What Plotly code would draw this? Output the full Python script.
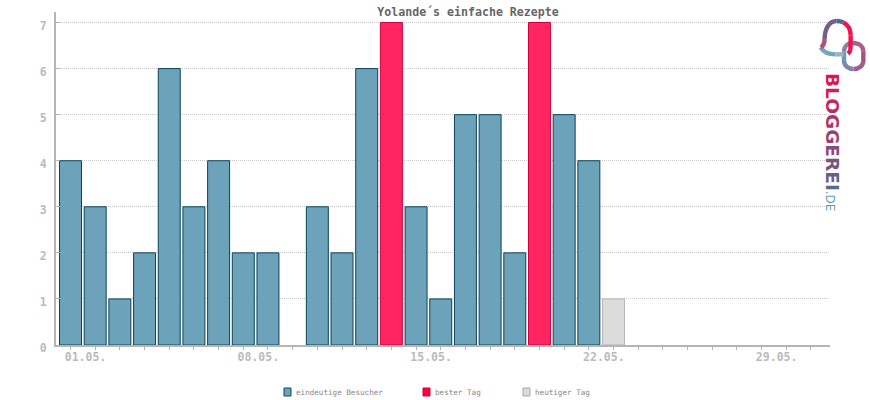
import plotly.graph_objects as go

title = "Yolande´s einfache Rezepte"
days = list(range(1, 32))
tick_labels = {1: "01.05.", 8: "08.05.", 15: "15.05.", 22: "22.05.", 29: "29.05."}
visitor_days = [1, 2, 3, 4, 5, 6, 7, 8, 9, 11, 12, 13, 15, 16, 17, 18, 19, 21, 22]
visitor_vals = [4, 3, 1, 2, 6, 3, 4, 2, 2, 3, 2, 6, 3, 1, 5, 5, 2, 5, 4]
best_days = [14, 20]
best_vals = [7, 7]
today_days = [23]
today_vals = [1]
legend_names = ["eindeutige Besucher", "bester Tag", "heutiger Tag"]

MONO = "DejaVu Sans Mono"
L, R, T, B = 56, 830, 12, 345


def px(x):
    return (x - L) / (R - L)


def py(y):
    return (B - y) / (B - T)


fig = go.Figure()
for name, xs, ys, fill, edge in [
    (legend_names[0], visitor_days, visitor_vals, "#6ca3bb", "#0b4358"),
    (legend_names[1], best_days, best_vals, "#ff2560", "#d0003f"),
    (legend_names[2], today_days, today_vals, "#dcdcdc", "#b5b5b5"),
]:
    fig.add_trace(go.Bar(x=xs, y=ys, name=name, width=0.89,
                         marker=dict(color=fill, line=dict(color=edge, width=1))))

shapes = []
annotations = []

# legend
for sx, tx, name, fill, edge in [
    (284, 296, legend_names[0], "#6ca3bb", "#0f4a5f"),
    (423, 435, legend_names[1], "#ff003f", "#d0003f"),
    (523, 535, legend_names[2], "#dcdcdc", "#a8a8a8"),
]:
    shapes.append(dict(type="rect", xref="paper", yref="paper",
                       x0=px(sx), x1=px(sx + 7), y0=py(388), y1=py(396),
                       fillcolor=fill, line=dict(color=edge, width=1)))
    annotations.append(dict(text=name, xref="paper", yref="paper", x=px(tx - 2), y=py(392),
                            xanchor="left", yanchor="middle", showarrow=False,
                            font=dict(family=MONO, size=7.6, color="#888888")))


# logo: curves given in 3x crop coordinates of the emblem area
def seg(start, curves, color, width=4.4):
    def p(a, b):
        return f"{px(815 + a / 3):.5f},{py(15 + b / 3):.5f}"
    d = "M" + p(*start)
    for c in curves:
        d += " C" + " ".join(p(*q) for q in c)
    shapes.append(dict(type="path", path=d, xref="paper", yref="paper",
                       line=dict(color=color, width=width)))


# link
seg((87, 110), [[(87, 94), (98, 84), (113, 84)]], "#8f7fa0")
seg((113, 84), [[(132, 84), (145, 94), (145, 110)]], "#a8608a")
seg((145, 110), [[(145, 118), (145, 130), (145, 138)]], "#a8507f")
seg((145, 138), [[(145, 152), (132, 162), (116, 162)]], "#a0608a")
seg((116, 162), [[(100, 162), (87, 152), (87, 138)]], "#7f86a6")
seg((87, 138), [[(87, 130), (87, 120), (87, 110)]], "#6b9cb6")
# bubble
seg((17, 97), [[(28, 116), (45, 118), (62, 118)]], "#6fa8c0")
seg((62, 118), [[(70, 118), (76, 118), (86, 118)]], "#9ab3c6")
seg((17, 97), [[(24, 94), (28, 88), (29, 72)]], "#b0507c")
seg((29, 72), [[(29, 42), (42, 18), (65, 18)]], "#71608c")
seg((65, 18), [[(72, 18), (78, 19), (85, 22)]], "#4d6a8f")
seg((85, 22), [[(100, 30), (107, 42), (107, 62)]], "#f0144e")
seg((107, 62), [[(107, 80), (107, 95), (106, 105)]], "#f0144e")
seg((106, 105), [[(105, 110), (103, 113), (99, 116)]], "#e0184f")

logo_letters = "BLOGGEREI"
logo_colors = ["#dc1650", "#d21d55", "#c4285c", "#b03366", "#9d3e70",
               "#8a4a7a", "#765583", "#65608c", "#5a6a92"]
logo = "".join(f'<span style="color:{c}">{t}</span>' for t, c in zip(logo_letters, logo_colors))
logo += '<span style="color:#5f9cbb;font-size:12px;font-weight:normal">.DE</span>'
annotations.append(dict(text="<b>" + logo + "</b>", xref="paper", yref="paper", x=px(833), y=py(142),
                        xanchor="center", yanchor="middle", showarrow=False, textangle=90,
                        font=dict(family="DejaVu Sans", size=18.5, color="#b03366")))

fig.update_layout(
    width=870, height=400, autosize=False,
    margin=dict(l=L, r=870 - R, t=T, b=400 - B, pad=0),
    paper_bgcolor="white", plot_bgcolor="white",
    barmode="overlay", showlegend=False,
    title=dict(text=title, x=468 / 870, xanchor="center", y=1 - 12 / 400, yanchor="middle",
               font=dict(family=MONO, size=11.6, color="#666666", weight="bold")),
    font=dict(family=MONO),
    shapes=shapes, annotations=annotations,
    xaxis=dict(range=[0.4125, 31.77], tickmode="array", tickvals=days,
               ticktext=[tick_labels.get(d, "") for d in days],
               ticks="outside", ticklen=3, tickcolor="#b5b5b5", tickwidth=1,
               ticklabelshift=15, ticklabelstandoff=-3, showgrid=False, zeroline=False,
               showline=True, linecolor="#b5b5b5", linewidth=2,
               tickfont=dict(family=MONO, size=11.5, color="#bbbbbb", weight="bold")),
    yaxis=dict(range=[0, 7.228], tickmode="array", tickvals=list(range(0, 8)),
               ticks="inside", ticklen=4, tickcolor="#b5b5b5", tickwidth=1,
               showgrid=True, griddash="1px,1px", gridcolor="#c8c8c8", gridwidth=1,
               zeroline=False, showline=True, linecolor="#b5b5b5", linewidth=2,
               ticklabelstandoff=5, ticklabelshift=3,
               tickfont=dict(family=MONO, size=11.5, color="#bbbbbb", weight="bold")),
)

fig.write_html("out.html", post_script="document.body.style.margin='0';",
               config={"displayModeBar": False})
